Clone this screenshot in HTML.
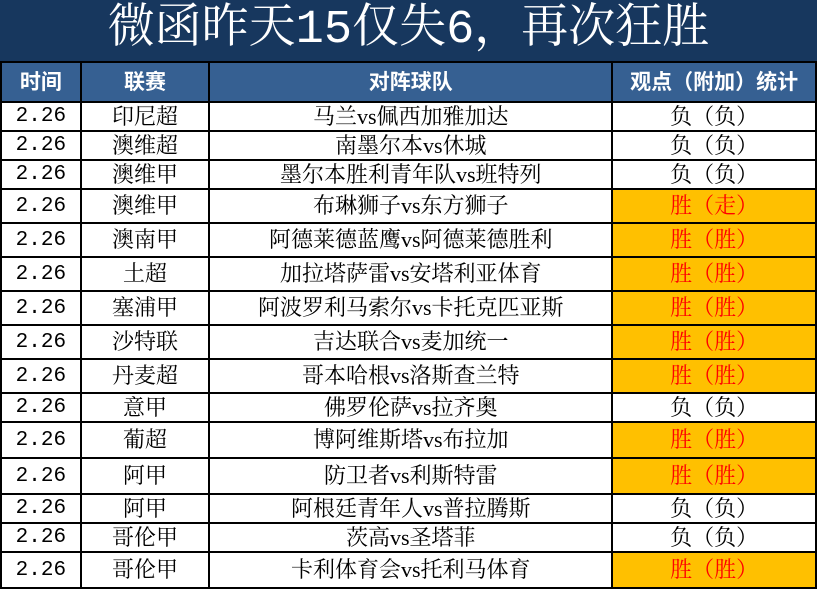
<!DOCTYPE html>
<html><head><meta charset="utf-8"><style>
body{margin:0;width:817px;height:588px;overflow:hidden;background:#fff;font-family:"Liberation Serif","Noto Serif CJK SC",serif;}
.title{position:absolute;left:0;top:0;width:817px;height:61px;background:#17375e;color:#fff;font-size:47px;line-height:61px;text-align:center;font-family:"Liberation Mono","Noto Serif CJK SC",serif;}
table{position:absolute;left:0;top:61px;border-collapse:collapse;table-layout:fixed;}
td{border:2px solid #000;padding:0;text-align:center;font-size:22px;line-height:1;white-space:nowrap;overflow:hidden;}
td.d{font-family:"Liberation Mono",monospace;font-size:21px;}
tr.h td{background:#366092;color:#fff;font-weight:bold;font-family:"Liberation Sans","Noto Sans CJK SC",sans-serif;font-size:21px;}
td.w{background:#ffc000;color:#f00;}
</style></head><body>
<div class="title">微函昨天15仅失6，再次狂胜</div>
<table>
<colgroup><col style="width:80px"><col style="width:129px"><col style="width:404px"><col style="width:204px"></colgroup>
<tr class="h" style="height:40px"><td>时间</td><td>联赛</td><td>对阵球队</td><td>观点（附加）统计</td></tr>
<tr style="height:29px"><td class="d">2.26</td><td>印尼超</td><td>马兰vs佩西加雅加达</td><td>负（负）</td></tr>
<tr style="height:29px"><td class="d">2.26</td><td>澳维超</td><td>南墨尔本vs休城</td><td>负（负）</td></tr>
<tr style="height:29px"><td class="d">2.26</td><td>澳维甲</td><td>墨尔本胜利青年队vs班特列</td><td>负（负）</td></tr>
<tr style="height:34px"><td class="d">2.26</td><td>澳维甲</td><td>布琳狮子vs东方狮子</td><td class="w">胜（走）</td></tr>
<tr style="height:34px"><td class="d">2.26</td><td>澳南甲</td><td>阿德莱德蓝鹰vs阿德莱德胜利</td><td class="w">胜（胜）</td></tr>
<tr style="height:34px"><td class="d">2.26</td><td>土超</td><td>加拉塔萨雷vs安塔利亚体育</td><td class="w">胜（胜）</td></tr>
<tr style="height:34px"><td class="d">2.26</td><td>塞浦甲</td><td>阿波罗利马索尔vs卡托克匹亚斯</td><td class="w">胜（胜）</td></tr>
<tr style="height:34px"><td class="d">2.26</td><td>沙特联</td><td>吉达联合vs麦加统一</td><td class="w">胜（胜）</td></tr>
<tr style="height:34px"><td class="d">2.26</td><td>丹麦超</td><td>哥本哈根vs洛斯查兰特</td><td class="w">胜（胜）</td></tr>
<tr style="height:29px"><td class="d">2.26</td><td>意甲</td><td>佛罗伦萨vs拉齐奥</td><td>负（负）</td></tr>
<tr style="height:36px"><td class="d">2.26</td><td>葡超</td><td>博阿维斯塔vs布拉加</td><td class="w">胜（胜）</td></tr>
<tr style="height:36px"><td class="d">2.26</td><td>阿甲</td><td>防卫者vs利斯特雷</td><td class="w">胜（胜）</td></tr>
<tr style="height:29px"><td class="d">2.26</td><td>阿甲</td><td>阿根廷青年人vs普拉腾斯</td><td>负（负）</td></tr>
<tr style="height:29px"><td class="d">2.26</td><td>哥伦甲</td><td>茨高vs圣塔菲</td><td>负（负）</td></tr>
<tr style="height:36px"><td class="d">2.26</td><td>哥伦甲</td><td>卡利体育会vs托利马体育</td><td class="w">胜（胜）</td></tr>
</table>
</body></html>
